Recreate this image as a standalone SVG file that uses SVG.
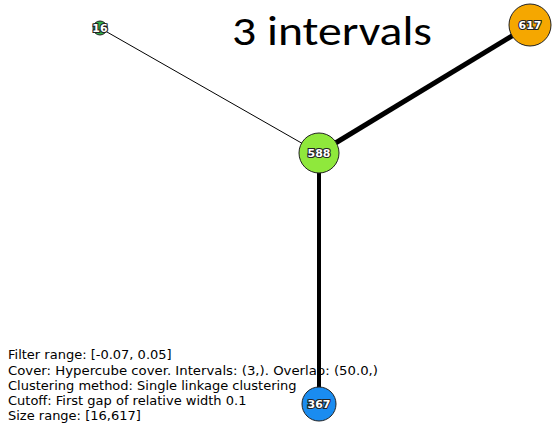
<svg xmlns="http://www.w3.org/2000/svg" width="556" height="427" viewBox="0 0 556 427">
<style>
.info{font-family:"DejaVu Sans",sans-serif;font-size:13px;fill:#000}
.node circle{stroke:#222;stroke-width:1}
.lbl{font-family:"DejaVu Sans",sans-serif;font-weight:bold;font-size:11px;fill:#fff;stroke:#222;stroke-width:2.2;paint-order:stroke;text-anchor:middle}
.edge{stroke:#000;fill:none}
</style>
<rect width="556" height="427" fill="#fff"/>
<text x="232" y="45" font-family="Carlito, 'Liberation Sans', sans-serif" font-size="41" textLength="200" lengthAdjust="spacingAndGlyphs" fill="#000">3 intervals</text>
<g id="info">
<text class="info" x="8" y="359">Filter range: [-0.07, 0.05]</text>
<text class="info" x="8" y="374.5" textLength="370" lengthAdjust="spacingAndGlyphs">Cover: Hypercube cover. Intervals: (3,). Overlap: (50.0,)</text>
<text class="info" x="8" y="390">Clustering method: Single linkage clustering</text>
<text class="info" x="8" y="405">Cutoff: First gap of relative width 0.1</text>
<text class="info" x="8" y="420">Size range: [16,617]</text>
</g>
<g id="edges">
<line class="edge" x1="100" y1="28" x2="319" y2="153" stroke-width="1"/>
<line class="edge" x1="319" y1="153" x2="530" y2="25" stroke-width="5"/>
<line class="edge" x1="319" y1="153" x2="319" y2="404" stroke-width="4"/>
</g>
<g id="n16" class="node"><circle cx="100" cy="28" r="7" fill="#2fb34a"/><text class="lbl" x="100" y="31.5" font-size="10">16</text></g>
<g id="n588" class="node"><circle cx="319" cy="153" r="20" fill="#8fe83c"/><text class="lbl" x="319" y="157">588</text></g>
<g id="n617" class="node"><circle cx="530" cy="25" r="21" fill="#f5a700"/><text class="lbl" x="530" y="29">617</text></g>
<g id="n367" class="node"><circle cx="319" cy="404" r="17" fill="#1a8cf0"/><text class="lbl" x="319" y="408">367</text></g>
</svg>
